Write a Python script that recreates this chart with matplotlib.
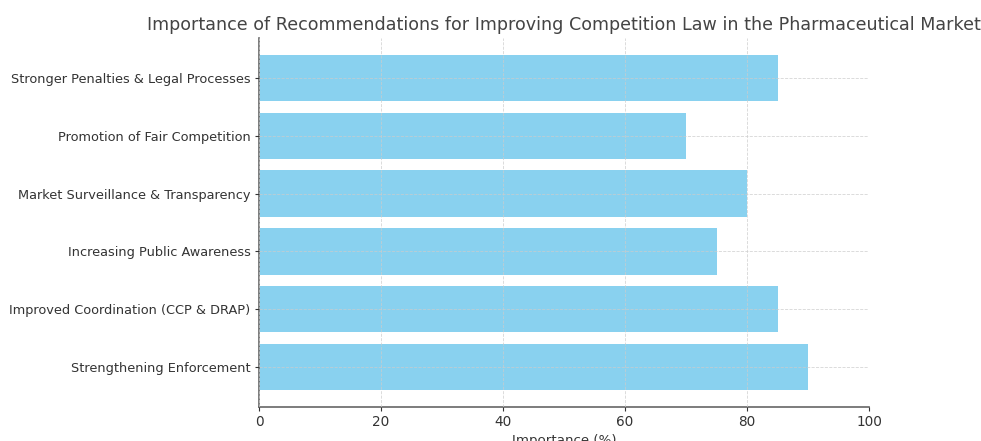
import matplotlib
matplotlib.use('Agg')
from matplotlib import pyplot as plt

categories = ['Strengthening Enforcement', 'Improved Coordination (CCP & DRAP)',
              'Increasing Public Awareness', 'Market Surveillance & Transparency',
              'Promotion of Fair Competition', 'Stronger Penalties & Legal Processes']
importance = [90, 85, 75, 80, 70, 85]

fig = plt.figure(figsize=(9.81, 4.41), dpi=100)
ax = fig.add_axes([0.264, 0.077, 0.622, 0.837])

ax.barh(categories, importance, color='#89d1ef', height=0.8)
ax.set_xlim(0, 100)
ax.grid(True, linestyle='--', linewidth=0.6, color='#cccccc', alpha=0.8)
ax.set_axisbelow(False)

for s in ['top', 'right']:
    ax.spines[s].set_visible(False)
for s in ['left', 'bottom']:
    ax.spines[s].set_color('#666666')
    ax.spines[s].set_linewidth(1.2)
ax.tick_params(colors='#333333', labelsize=9.3, length=3, pad=3)
ax.tick_params(axis='x', labelsize=9.8)
ax.set_xlabel('Importance (%)', fontsize=9.6, color='#333333', labelpad=3)
ax.set_title('Importance of Recommendations for Improving Competition Law in the Pharmaceutical Market',
             fontsize=12.6, color='#444444', pad=6)

fig.savefig('out.png', dpi=100)
